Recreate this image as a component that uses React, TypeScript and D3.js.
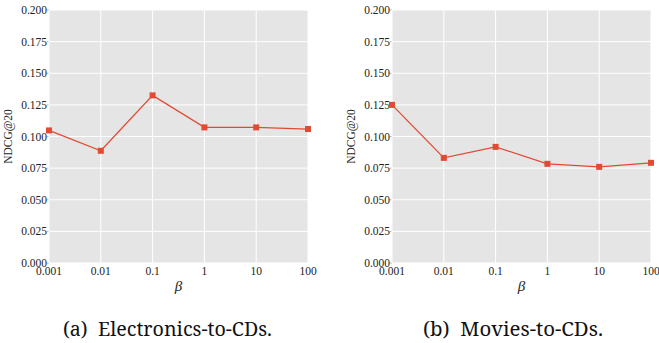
import * as d3 from "d3";

const betas = ["0.001", "0.01", "0.1", "1", "10", "100"];
const electronicsNdcg = [0.1048, 0.0887, 0.1325, 0.1072, 0.1072, 0.1059];
const moviesNdcg = [0.125, 0.0831, 0.0918, 0.0784, 0.076, 0.0792];
const yTicks = [0, 0.025, 0.05, 0.075, 0.1, 0.125, 0.15, 0.175, 0.2];
const captions = ["(a)  Electronics-to-CDs.", "(b)  Movies-to-CDs."];

const width = 659;
const height = 343;
const top = 10;
const bottom = 263;
const lineColor = "#e24a33";
const font = "Liberation Serif";

type PanelProps = {
  values: number[];
  left: number;
  right: number;
  caption: string;
  captionX: number;
  captionW: number;
};

// one subplot: grey panel, grid, line with square markers
const Panel = ({ values, left, right, caption, captionX, captionW }: PanelProps) => {
  const x = d3.scalePoint<string>().domain(betas).range([left, right]);
  const y = d3.scaleLinear().domain([0, 0.2]).range([bottom, top]);
  const line = d3
    .line<number>()
    .x((_, i) => x(betas[i]) as number)
    .y((d) => y(d));

  return (
    <g>
      <rect x={left} y={top} width={right - left} height={bottom - top} fill="#e5e5e5" />
      {yTicks.map((t) => (
        <g key={t}>
          <line x1={left} x2={right} y1={y(t)} y2={y(t)} stroke="#fff" strokeWidth={1} />
          <line x1={left - 2} x2={left} y1={y(t)} y2={y(t)} stroke="#888" strokeWidth={0.6} />
          <text
            x={left - 2}
            y={y(t)}
            dy="0.35em"
            textAnchor="end"
            fontSize={11.5}
            style={{ fontFamily: font }}
            fill="#222"
          >
            {t.toFixed(3)}
          </text>
        </g>
      ))}
      {betas.map((b) => (
        <g key={b}>
          <line x1={x(b)} x2={x(b)} y1={top} y2={bottom} stroke="#fff" strokeWidth={1} />
          <text
            x={x(b)}
            y={bottom + 12}
            textAnchor="middle"
            fontSize={11.5}
            style={{ fontFamily: font }}
            fill="#222"
          >
            {b}
          </text>
        </g>
      ))}
      <path d={line(values) ?? ""} fill="none" stroke={lineColor} strokeWidth={1.3} />
      {values.map((v, i) => (
        <rect
          key={i}
          x={(x(betas[i]) as number) - 3}
          y={y(v) - 3}
          width={6}
          height={6}
          fill={lineColor}
        />
      ))}
      <text
        x={(left + right) / 2}
        y={bottom + 28}
        textAnchor="middle"
        fontSize={15}
        fontStyle="italic"
        style={{ fontFamily: font }}
        fill="#222"
      >
        β
      </text>
      <text
        transform={`translate(${left - 37},${(top + bottom) / 2}) rotate(-90)`}
        textAnchor="middle"
        fontSize={11.5}
        style={{ fontFamily: font }}
        fill="#222"
      >
        NDCG@20
      </text>
      <text
        x={captionX}
        y={336}
        fontSize={19}
        textLength={captionW}
        lengthAdjust="spacingAndGlyphs"
        style={{ fontFamily: "Noto Serif", whiteSpace: "pre" }}
        fill="#111"
      >
        {caption}
      </text>
    </g>
  );
};

const App = () => {
  return (
    <svg
      width={width}
      height={height}
      style={{ position: "absolute", left: 0, top: 0, background: "#fff" }}
    >
      <Panel
        values={electronicsNdcg}
        left={49}
        right={308}
        caption={captions[0]}
        captionX={63}
        captionW={209}
      />
      <Panel
        values={moviesNdcg}
        left={392}
        right={651}
        caption={captions[1]}
        captionX={423}
        captionW={180}
      />
    </svg>
  );
};

export default App;
